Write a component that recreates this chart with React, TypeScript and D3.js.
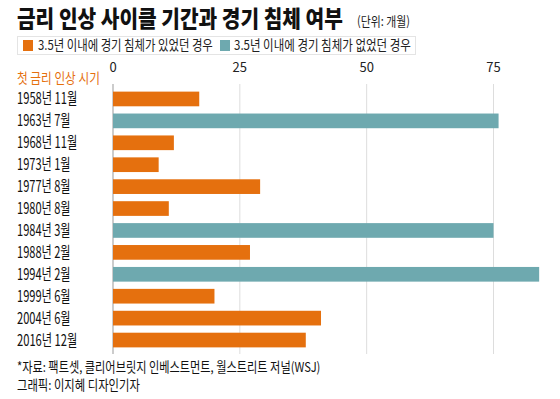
import React, { useLayoutEffect, useRef, useState } from "react";
import * as d3 from "d3";

const categories = [
  "1958년 11월", "1963년 7월", "1968년 11월", "1973년 1월", "1977년 8월", "1980년 8월",
  "1984년 3월", "1988년 2월", "1994년 2월", "1999년 6월", "2004년 6월", "2016년 12월",
];
const months = [17, 76, 12, 9, 29, 11, 75, 27, 84, 20, 41, 38];
const recession = [true, false, true, true, true, true, false, true, false, true, true, true];
const ticks = [0, 25, 50, 75];
const legendLabels = ["3.5년 이내에 경기 침체가 있었던 경우", "3.5년 이내에 경기 침체가 없었던 경우"];

const ORANGE = "#E5700E";
const TEAL = "#6EA9AF";
const FONT = "'Noto Sans CJK KR', 'Noto Sans', sans-serif";

function FitText(props: { x: number; y: number; width: number; fontSize: number; fill: string; fontWeight?: number; children: string }) {
  const ref = useRef<SVGTextElement>(null);
  const [sx, setSx] = useState(1);
  useLayoutEffect(() => {
    if (ref.current) {
      const w = ref.current.getComputedTextLength();
      if (w > 0) setSx(props.width / w);
    }
  }, [props.width, props.children]);
  return (
    <g transform={`translate(${props.x},${props.y}) scale(${sx},1)`}>
      <text ref={ref} x={0} y={0} fontSize={props.fontSize} fontWeight={props.fontWeight} fill={props.fill}>
        {props.children}
      </text>
    </g>
  );
}

export default function App() {
  const x = d3.scaleLinear().domain([0, 75]).range([113, 493.5]);
  const y = d3.scaleBand<string>().domain(categories).range([88, 351]).paddingInner(0.33).paddingOuter(0.165);

  return (
    <svg width={560} height={399} style={{ position: "absolute", left: 0, top: 0, background: "#fff" }} fontFamily={FONT}>
      <rect width={560} height={399} fill="#fff" />
      <FitText x={17} y={27} width={326} fontSize={23} fontWeight={900} fill="#111">
        금리 인상 사이클 기간과 경기 침체 여부
      </FitText>
      <FitText x={357} y={26} width={53} fontSize={13} fill="#222">(단위: 개월)</FitText>

      <rect x={17.5} y={36.5} width={398} height={18} fill="none" stroke="#e4e4e4" />
      <rect x={23} y={40} width={10} height={11} fill={ORANGE} />
      <FitText x={38} y={50} width={175} fontSize={13.5} fill="#222">{legendLabels[0]}</FitText>
      <rect x={220} y={40} width={10} height={11} fill={TEAL} />
      <FitText x={234} y={50} width={177} fontSize={13.5} fill="#222">{legendLabels[1]}</FitText>

      {ticks.map((t) => (
        <g key={t}>
          <line x1={x(t)} x2={x(t)} y1={84} y2={354} stroke={t === 0 ? "#999" : "#ddd"} strokeWidth={1} />
          <text x={x(t)} y={72} fontSize={13} fill="#222" textAnchor="middle">{t}</text>
        </g>
      ))}

      <FitText x={17} y={83} width={83} fontSize={14} fill={ORANGE}>첫 금리 인상 시기</FitText>

      {categories.map((c, i) => (
        <g key={c}>
          <rect x={x(0)} y={y(c)!} width={x(months[i]) - x(0)} height={y.bandwidth()} fill={recession[i] ? ORANGE : TEAL} />
          <FitText x={17} y={y(c)! + y.bandwidth() / 2 + 5.5} width={c.length * 6.7} fontSize={16} fill="#111">{c}</FitText>
        </g>
      ))}

      <FitText x={17} y={372} width={304} fontSize={13.5} fill="#111">
        *자료: 팩트셋, 클리어브릿지 인베스트먼트, 월스트리트 저널(WSJ)
      </FitText>
      <FitText x={17} y={390} width={123} fontSize={13.5} fill="#111">
        그래픽: 이지혜 디자인기자
      </FitText>
    </svg>
  );
}
